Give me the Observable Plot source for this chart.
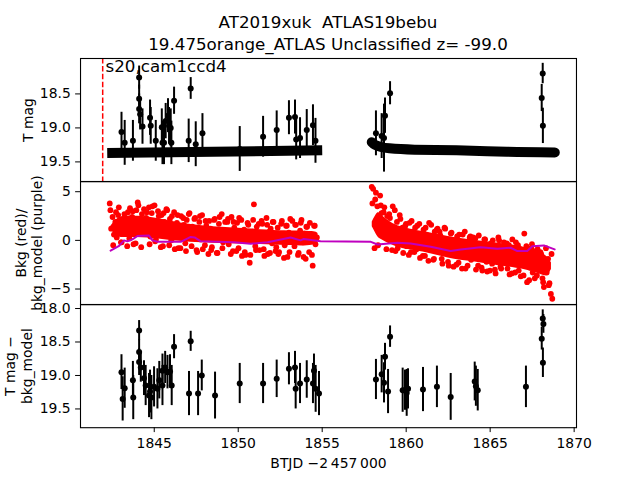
<!DOCTYPE html>
<html><head><meta charset="utf-8">
<script src="https://cdn.jsdelivr.net/npm/d3@7"></script>
<script src="https://cdn.jsdelivr.net/npm/@observablehq/plot@0.6"></script>
<style>
body{margin:0;background:#fff;}
#wrap{position:relative;width:640px;height:480px;overflow:hidden;font-family:"DejaVu Sans";background:#fff;}
#wrap svg{position:absolute;left:0;overflow:visible;background:transparent;}
.t{position:absolute;left:80px;width:496px;text-align:center;font-family:"DejaVu Sans";font-size:16.7px;line-height:20px;white-space:pre;color:#000;}
</style></head><body>
<div id="wrap"></div>
<script>
// ---------- data ----------
const titleLine1 = "AT2019xuk  ATLAS19bebu";
const titleLine2 = "19.475orange_ATLAS Unclassified z= -99.0";
const sectorLabel = "s20,cam1ccd4";
const yLabelTop = "T mag";
const yLabelMid = "Bkg (red)/\nbkg_model (purple)";
const yLabelBot = "T mag \u2212\nbkg_model";
const xLabel = "BTJD \u22122\u2009457\u2009000";
const xTicks = [1845, 1850, 1855, 1860, 1865, 1870];
const yTicksTop = [18.5, 19.0, 19.5];
const yTicksMid = [-5, 0, 5];
const yTicksBot = [18.0, 18.5, 19.0, 19.5];
const refLineT = 1841.93;

// top panel: T mag detections
const topT = [1843.05,1843.24,1843.73,1844.10,1844.10,1844.10,1844.16,1844.30,1844.75,1844.79,1845.09,1845.45,1845.49,1845.58,1845.68,1845.82,1845.88,1845.98,1846.02,1846.18,1847.05,1847.17,1847.47,1847.87,1850.09,1851.48,1852.29,1853.02,1853.38,1853.45,1853.68,1854.08,1854.45,1854.60,1858.20,1858.54,1858.68,1858.74,1859.04,1868.07,1868.13,1868.14];
const topM = [19.06,19.22,19.19,18.26,18.57,18.72,18.80,18.98,18.85,18.97,19.19,18.99,19.22,19.22,18.90,18.82,18.97,19.00,19.22,18.60,19.19,18.42,19.24,19.08,19.31,19.13,19.03,18.85,18.84,19.17,19.15,19.03,18.96,19.19,19.08,19.12,19.15,18.82,18.49,18.56,18.20,18.97];
const topE = [0.29,0.33,0.3,0.17,0.2,0.22,0.23,0.26,0.26,0.27,0.3,0.27,0.32,0.32,0.26,0.25,0.27,0.28,0.32,0.2,0.32,0.16,0.33,0.29,0.33,0.3,0.28,0.25,0.25,0.3,0.3,0.3,0.3,0.33,0.33,0.33,0.5,0.26,0.17,0.2,0.15,0.26];

// top panel: limit band (upper limits)
const band1T = [1842.2, 1848.5, 1855.0];
const band1M = [19.37, 19.35, 19.33];
const band2T = [1857.95, 1858.15, 1858.5, 1859.0, 1860.5, 1863.0, 1866.0, 1868.85];
const band2M = [19.21, 19.25, 19.28, 19.30, 19.32, 19.33, 19.35, 19.36];

// middle panel: background (red), two orbits, 2-hour cadence
const bkgStep = 1 / 12;
const bkgStartA = 1842.35;
const bkgA = [
3.8,1.2,2.4,0.6,1.9,0.3,2.6,1.1,-0.2,1.7,2.2,0.8,
1.5,2.9,0.2,1.8,2.4,-0.4,1.3,3.1,3.9,2.0,1.0,2.7,
0.7,0.9,2.3,1.6,3.4,0.4,2.8,1.2,3.6,0.1,1.9,2.5,
1.4,2.6,-0.6,1.9,0.5,3.1,1.1,2.2,0.0,1.6,2.9,0.7,
1.8,-0.8,1.2,2.5,0.4,1.6,-0.3,2.1,0.9,2.8,0.2,1.4,
0.6,2.3,-1.0,1.1,1.9,0.1,2.6,0.8,-0.5,1.5,0.3,2.0,
1.2,-0.7,0.5,2.2,0.9,-1.3,1.7,0.2,2.7,-0.2,1.0,0.6,
1.9,-0.4,0.8,2.4,-1.1,1.3,0.3,1.8,-0.8,0.7,2.1,0.0,
1.1,-1.5,0.6,1.6,-2.3,0.4,0.9,3.7,-0.6,1.4,0.2,-1.0,
0.5,1.7,-0.9,0.2,2.3,-1.4,0.9,1.2,-0.3,1.9,0.4,-0.7,
1.3,-1.2,0.1,2.0,0.6,-0.5,1.5,-1.7,0.8,2.2,-0.1,0.4,
-0.6,1.6,0.3,-1.3,1.0,2.1,-0.2,0.7,-1.9,1.4,0.2,1.8,
0.6,-2.6,1.5,-0.4,0.3];
const bkgStartB = 1857.95;
const bkgB = [
5.5,5.3,-0.8,4.9,3.5,2.1,4.6,2.8,1.2,3.4,0.4,2.5,
1.6,2.3,0.2,3.5,1.0,-1.1,1.9,0.6,2.6,-0.3,1.3,0.8,
1.5,-0.6,0.4,1.8,-1.2,0.9,0.1,1.3,-0.9,0.5,1.7,-0.4,
0.2,1.1,-1.6,0.6,-0.3,1.8,-1.0,0.3,-2.0,0.9,-0.5,1.2,
-0.8,0.5,-1.9,-0.2,1.3,-1.3,0.1,-2.6,-0.6,0.8,-1.5,-0.1,
-1.1,0.4,-2.3,-0.5,-1.6,0.6,-0.9,-2.9,-0.2,-1.3,0.3,-2.0,
-0.7,-1.8,0.2,-1.2,-2.6,-0.4,-1.5,-3.1,-0.9,0.1,-2.2,-1.0,
-1.6,-0.3,-2.4,-1.1,-3.0,-0.6,-1.9,0.0,-2.7,-1.3,-0.8,-2.1,
-1.4,-2.9,-0.5,-1.8,-3.4,-1.0,-2.3,-0.2,-1.6,-3.1,-0.9,-2.0,
-1.7,0.7,-2.5,-4.3,-1.2,-2.8,-0.8,-3.3,-2.0,-1.1,-3.6,-2.4,
-2.6,-1.4,-3.9,-4.8,-2.2,-3.3,-1.9,-4.4,-5.5,-6.0];

// extra background samples (offset cadence), mostly near the edges of the cloud
const edgeStep = 1 / 6;
const edgeStartA = 1842.39;
const edgeA = [
3.1,-0.5,2.9,3.4,-0.2,2.7,
-0.6,3.3,3.0,-0.3,3.6,-0.7,
3.2,2.9,-0.4,3.5,-0.1,3.0,
-0.7,2.8,3.2,-0.5,2.5,-0.9,
2.6,-0.8,2.3,-1.1,2.7,-0.6,
2.2,-1.2,2.5,-0.9,2.0,-1.4,
-1.0,2.1,-1.3,2.4,-0.8,1.9,
2.2,-1.4,1.9,-1.1,2.3,-1.6,
-1.2,1.8,-1.5,2.1,-1.0,1.7,
2.0,-1.6,1.6,-1.3,1.9,-1.1,
-1.4,1.7,-1.8,1.5,-1.2,2.0,
1.6,-1.5,1.8,-1.7,1.4,-1.2,
-1.5,1.5];
const edgeStartB = 1857.99;
const edgeB = [
3.8,4.2,-0.5,3.6,2.9,-0.9,
2.7,-1.0,3.1,-0.8,2.2,-1.3,
1.7,-1.5,2.0,-1.2,1.5,-1.8,
-1.6,1.3,-2.1,1.6,-1.9,1.1,
0.9,-2.4,1.2,-2.2,0.7,-2.7,
-2.5,0.6,-2.9,0.9,-2.6,0.4,
0.3,-3.0,0.5,-2.8,0.1,-3.2,
-3.1,0.0,-3.4,0.3,-2.9,-0.2,
-0.3,-3.5,0.1,-3.3,-0.5,-3.7,
-3.6,-0.6,-4.1,-0.4,-3.9,-0.9,
-1.2,-4.3,-0.8,-4.6,-1.4];

// dense core of the background cloud (lower / upper envelope)
const coreAT  = [1842.4, 1842.8, 1843.5, 1845.0, 1846.5, 1848.5, 1850.5, 1852.5, 1854.4, 1854.75];
const coreALo = [1.2, 0.4, 0.3, 0.2, -0.1, -0.3, -0.4, -0.5, -0.5, 0.3];
const coreAHi = [1.4, 2.2, 2.5, 2.3, 1.8, 1.4, 1.2, 1.0, 0.9, 0.5];
const coreBT  = [1857.98, 1858.3, 1858.6, 1859.5, 1861.0, 1862.5, 1864.0, 1865.5, 1867.0, 1868.0, 1868.4, 1868.65];
const coreBLo = [1.4, 0.4, 0.0, -0.7, -1.2, -1.8, -2.2, -2.6, -3.0, -3.5, -3.6, -3.0];
const coreBHi = [1.9, 2.8, 2.5, 1.5, 0.9, 0.4, 0.0, -0.3, -0.7, -1.3, -1.7, -2.3];

// middle panel: background model (purple)
const modelT = [1842.40,1842.88,1843.2,1843.4,1843.7,1844.0,1844.69,1844.89,1845.2,1846.58,1847.17,1847.4,1847.77,1849.73,1850.74,1851.75,1853.12,1853.71,1853.9,1854.9,1857.9,1858.29,1859.48,1860.27,1861.46,1862.65,1863.25,1864.43,1865.43,1866.22,1866.62,1867.21,1867.51,1868.2,1868.84];
const modelV = [-1.05,-0.6,0.0,-0.1,0.1,0.45,0.5,0.0,-0.15,-0.15,0.35,0.3,-0.1,-0.2,-0.35,-0.2,0.3,0.0,0.15,-0.1,-0.15,-0.42,-0.25,-0.33,-0.66,-1.1,-0.93,-0.7,-0.87,-0.76,-1.1,-1.1,-0.6,-0.52,-0.93];

// bottom panel: T mag - bkg_model
const botT = [1843.05,1843.12,1843.24,1843.73,1843.75,1844.10,1844.10,1844.10,1844.20,1844.39,1844.49,1844.69,1844.75,1844.83,1844.99,1845.19,1845.30,1845.49,1845.49,1845.65,1845.79,1845.94,1846.04,1846.18,1847.07,1847.17,1847.61,1847.83,1848.62,1850.09,1851.48,1852.29,1853.02,1853.38,1853.42,1853.68,1854.08,1854.45,1854.51,1854.61,1854.81,1858.20,1858.54,1858.68,1858.74,1858.92,1859.04,1859.79,1859.93,1860.03,1860.11,1861.00,1861.83,1862.65,1864.08,1864.15,1864.26,1867.13,1868.07,1868.13,1868.17,1868.14];
const botM = [18.95,19.35,19.19,19.07,19.33,18.33,18.65,18.80,18.88,19.04,19.15,19.30,19.24,19.33,19.17,19.20,19.07,19.15,18.93,18.88,18.95,18.94,19.15,18.57,19.27,18.49,19.27,19.00,19.30,19.12,19.12,19.05,18.90,18.88,19.20,19.12,19.06,19.12,18.93,19.20,19.27,19.06,18.98,19.11,18.72,19.24,18.42,19.22,19.22,19.26,19.20,19.21,19.17,19.32,19.09,19.16,19.22,19.17,18.45,18.15,18.23,18.81];
const botE = [0.26,0.33,0.3,0.28,0.33,0.15,0.18,0.2,0.22,0.26,0.3,0.33,0.32,0.33,0.3,0.3,0.28,0.3,0.25,0.24,0.25,0.25,0.3,0.18,0.33,0.15,0.33,0.23,0.35,0.3,0.3,0.28,0.24,0.24,0.3,0.3,0.28,0.3,0.25,0.35,0.33,0.3,0.28,0.3,0.2,0.33,0.16,0.33,0.3,0.35,0.3,0.33,0.31,0.35,0.29,0.3,0.31,0.31,0.17,0.13,0.14,0.22];

// ---------- tables ----------
const zipErr = (T, M, E) => T.map((t, i) => ({t, m: M[i], e: E[i]}));
const topPts = zipErr(topT, topM, topE);
const botPts = zipErr(botT, botM, botE);
const band1 = band1T.map((t, i) => ({t, m: band1M[i]}));
const band2 = band2T.map((t, i) => ({t, m: band2M[i]}));
const series = (start, step, vals) => vals.map((v, i) => ({t: start + i * step, v}));
const red = [
  ...series(bkgStartA, bkgStep, bkgA), ...series(bkgStartB, bkgStep, bkgB),
  ...series(edgeStartA, edgeStep, edgeA), ...series(edgeStartB, edgeStep, edgeB)
];
const coreA = coreAT.map((t, i) => ({t, lo: coreALo[i], hi: coreAHi[i]}));
const coreB = coreBT.map((t, i) => ({t, lo: coreBLo[i], hi: coreBHi[i]}));
const model = modelT.map((t, i) => ({t, v: modelV[i]}));

// ---------- layout ----------
const wrap = document.getElementById("wrap");
const FONT = "DejaVu Sans";
const xDomain = [1840.61, 1870.14];
const PANEL_H = 123.2;
const common = {
  width: 640, marginLeft: 80, marginRight: 64, marginTop: 0,
  style: {fontFamily: FONT, fontSize: "13.9px", background: "transparent", overflow: "visible", color: "black"}
};
const yAxisOpts = {tickSize: 4.9, tickPadding: 4.9, label: null};
const frame = Plot.frame({stroke: "black", strokeWidth: 1.1});
const ylab = (txt, dx, lh) => Plot.text([txt], {text: d => d, frameAnchor: "left", dx, rotate: -90,
  textAnchor: "middle", lineAnchor: "middle", lineHeight: lh, fontSize: 13.9, fill: "black"});

function place(svg, top) {
  svg.style.position = "absolute";
  svg.style.left = "0px";
  svg.style.top = top + "px";
  wrap.appendChild(svg);
}

// title
[[titleLine1, 11.5], [titleLine2, 33.5]].forEach(([txt, top]) => {
  const d = document.createElement("div");
  d.className = "t"; d.style.top = top + "px"; d.textContent = txt;
  wrap.appendChild(d);
});

// panel 1
const p1 = Plot.plot({
  ...common, height: PANEL_H, marginBottom: 0,
  x: {domain: xDomain, axis: null},
  y: {domain: [17.979, 19.791], reverse: true, ticks: yTicksTop, tickFormat: ".1f", ...yAxisOpts},
  marks: [
    Plot.ruleX([refLineT], {x: d => d, stroke: "red", strokeWidth: 1.5, strokeDasharray: "5.5,2.4"}),
    Plot.line(band1, {x: "t", y: "m", stroke: "black", strokeWidth: 10, strokeLinecap: "butt"}),
    Plot.line(band2, {x: "t", y: "m", stroke: "black", strokeWidth: 10, strokeLinecap: "round", curve: "natural"}),
    Plot.ruleX(topPts, {x: "t", y1: d => d.m - d.e, y2: d => d.m + d.e, stroke: "black", strokeWidth: 2}),
    Plot.dot(topPts, {x: "t", y: "m", r: 3, fill: "black"}),
    Plot.text([sectorLabel], {text: d => d, frameAnchor: "top-left", dx: 25, dy: 2, lineAnchor: "top", textAnchor: "start", fontSize: 16.7, fill: "black"}),
    ylab(yLabelTop, -53, 1.2),
    frame
  ]
});
place(p1, 57.6);

// panel 2
const p2 = Plot.plot({
  ...common, height: PANEL_H, marginBottom: 0,
  x: {domain: xDomain, axis: null},
  y: {domain: [-6.61, 6.05], ticks: yTicksMid, tickFormat: "d", ...yAxisOpts},
  marks: [
    Plot.areaY(coreA, {x: "t", y1: "lo", y2: "hi", fill: "red", curve: "natural"}),
    Plot.areaY(coreB, {x: "t", y1: "lo", y2: "hi", fill: "red", curve: "natural"}),
    Plot.dot(red, {x: "t", y: "v", r: 2.9, fill: "red"}),
    Plot.line(model, {x: "t", y: "v", stroke: "#bf00bf", strokeWidth: 2}),
    ylab(yLabelMid, -52, 1.15),
    frame
  ]
});
place(p2, 180.8);

// panel 3
const p3 = Plot.plot({
  ...common, height: PANEL_H + 52.8, marginBottom: 52.8,
  x: {domain: xDomain, ticks: xTicks, tickFormat: "d", tickSize: 4.9, tickPadding: 5.5, label: null},
  y: {domain: [17.94, 19.78], reverse: true, ticks: yTicksBot, tickFormat: ".1f", ...yAxisOpts},
  marks: [
    Plot.ruleX(botPts, {x: "t", y1: d => d.m - d.e, y2: d => d.m + d.e, stroke: "black", strokeWidth: 2}),
    Plot.dot(botPts, {x: "t", y: "m", r: 3, fill: "black"}),
    ylab(yLabelBot, -62, 1.22),
    Plot.text([xLabel], {text: d => d, frameAnchor: "bottom", dy: 36, lineAnchor: "middle", fontSize: 13.9, fill: "black"}),
    frame
  ]
});
place(p3, 304);
</script></body></html>
